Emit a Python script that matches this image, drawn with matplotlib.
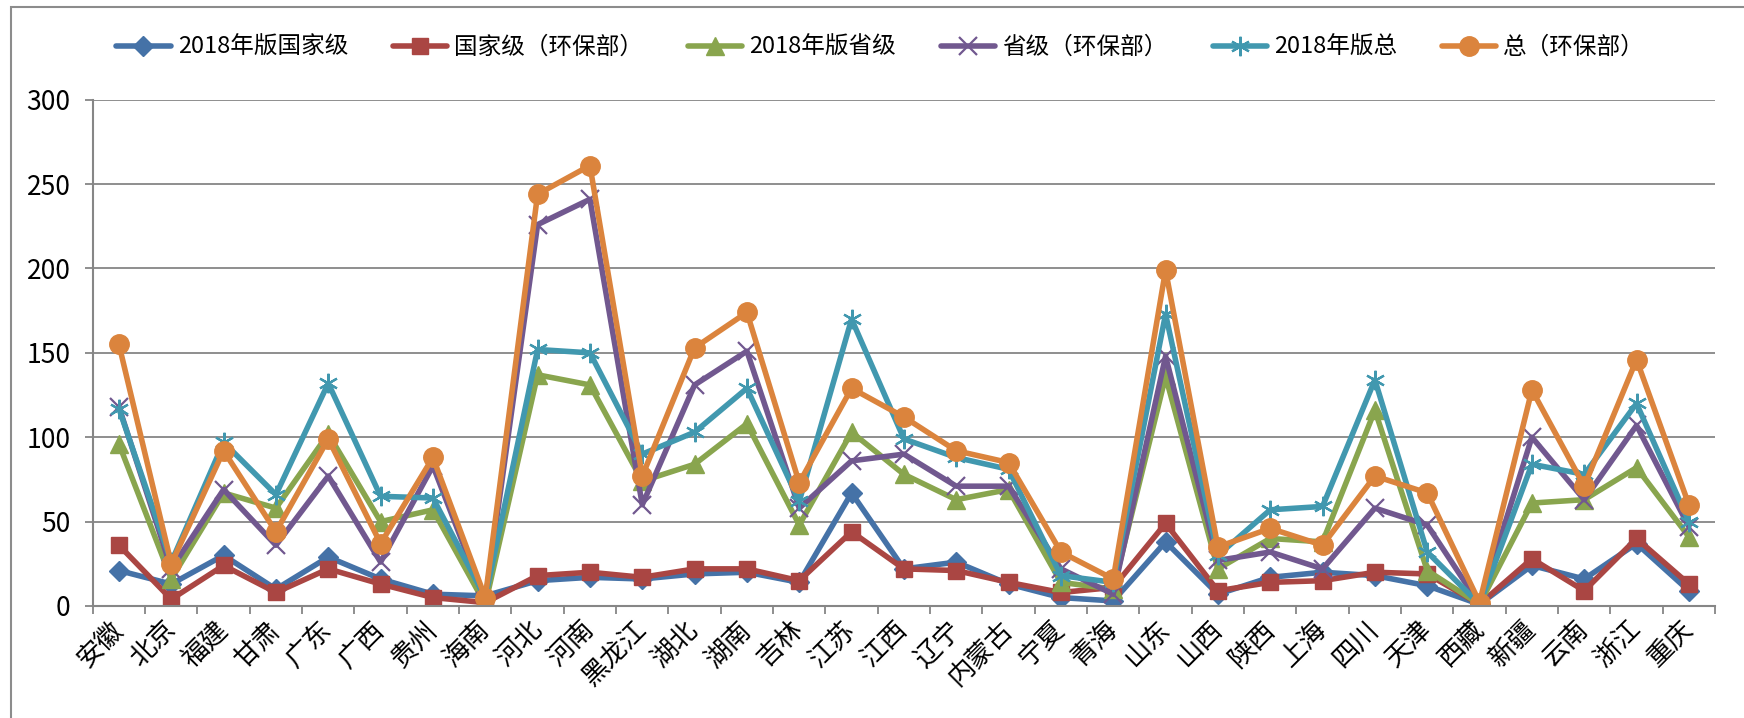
import matplotlib.pyplot as plt
from matplotlib.patches import Rectangle

plt.rcParams['font.family'] = ['Noto Sans CJK SC', 'DejaVu Sans']

provinces = ['安徽', '北京', '福建', '甘肃', '广东', '广西', '贵州', '海南', '河北', '河南',
             '黑龙江', '湖北', '湖南', '吉林', '江苏', '江西', '辽宁', '内蒙古', '宁夏', '青海',
             '山东', '山西', '陕西', '上海', '四川', '天津', '西藏', '新疆', '云南', '浙江', '重庆']

nat_2018 = [21, 13, 30, 10, 29, 16, 7, 6, 15, 17, 16, 19, 20, 14, 67, 22,
            26, 13, 5, 3, 38, 7, 17, 20, 18, 12, 1, 24, 16, 37, 9]
nat_mep = [36, 4, 24, 8, 22, 13, 5, 2, 18, 20, 17, 22, 22, 15, 44, 22,
           21, 14, 8, 11, 49, 9, 14, 15, 20, 19, 1, 28, 9, 40, 13]
prov_2018 = [96, 16, 67, 58, 102, 50, 57, 1, 137, 131, 74, 84, 108, 48, 103, 78,
             63, 69, 14, 10, 136, 22, 40, 38, 116, 21, 1, 61, 63, 82, 41]
prov_mep = [118, 22, 69, 36, 77, 26, 83, 3, 226, 241, 60, 131, 151, 58, 86, 90,
            71, 71, 22, 7, 148, 27, 32, 22, 58, 48, 1, 100, 63, 107, 47]
total_2018 = [117, 26, 97, 66, 132, 65, 64, 5, 152, 150, 90, 103, 129, 62, 170, 99,
              88, 81, 18, 14, 173, 30, 57, 59, 134, 32, 1, 84, 78, 120, 50]
total_mep = [155, 25, 92, 44, 99, 37, 88, 5, 244, 261, 77, 153, 174, 73, 129, 112,
             92, 85, 32, 16, 199, 35, 46, 36, 77, 67, 2, 128, 71, 146, 60]

labels = ['2018年版国家级', '国家级（环保部）', '2018年版省级', '省级（环保部）', '2018年版总', '总（环保部）']
colors = ['#4572A7', '#AA4643', '#89A54E', '#71588F', '#4198AF', '#DB843D']

fig = plt.figure(figsize=(17.44, 7.18), dpi=100)
ax = fig.add_axes([0.0532, 0.156, 0.9302, 0.7051])

x = list(range(len(provinces)))
series = [nat_2018, nat_mep, prov_2018, prov_mep, total_2018, total_mep]
styles = [
    dict(marker='D', ms=10),
    dict(marker='s', ms=12),
    dict(marker='^', ms=13),
    dict(marker='x', ms=13, mew=1.6),
    dict(marker=(6, 2, 0), ms=14, mew=1.6),
    dict(marker='o', ms=14),
]
for vals, lab, col, st in zip(series, labels, colors, styles):
    ax.plot(x, vals, color=col, lw=4, label=lab, mec=col, mfc=col,
            solid_joinstyle='round', solid_capstyle='round', **st)

ax.set_xlim(-0.5, len(provinces) - 0.5)
ax.set_ylim(0, 300)
ax.set_yticks(range(0, 301, 50))
ax.yaxis.grid(True, color='#868686', lw=1.3)
ax.set_axisbelow(True)

for s in ['top', 'right']:
    ax.spines[s].set_visible(False)
for s in ['left', 'bottom']:
    ax.spines[s].set_color('#868686')
    ax.spines[s].set_linewidth(1.5)

ax.tick_params(axis='y', length=6, width=1.3, color='#868686', labelsize=19, pad=10)
ax.set_xticks(x)
ax.set_xticklabels(provinces, fontsize=19, fontweight='light')
ax.set_xticks([i - 0.5 for i in range(len(provinces) + 1)], minor=True)
ax.tick_params(axis='x', which='major', length=0, pad=14)
ax.tick_params(axis='x', which='minor', length=6, width=1.3, color='#868686')
for t in ax.get_xticklabels():
    t.set_rotation(45)
    t.set_ha('right')
    t.set_va('center')
    t.set_rotation_mode('anchor')

fig.legend(loc='center', bbox_to_anchor=(0.505, 0.934), ncol=6, frameon=False,
           fontsize=17, handlelength=2.3, handletextpad=0.3, columnspacing=1.9)

fig.add_artist(Rectangle((10.5 / 1744, -0.1), 1.2, 0.99 + 0.1, transform=fig.transFigure,
                         fill=False, edgecolor='#8c8c8c', lw=1.5, clip_on=False))

fig.savefig('out.png', dpi=100)
